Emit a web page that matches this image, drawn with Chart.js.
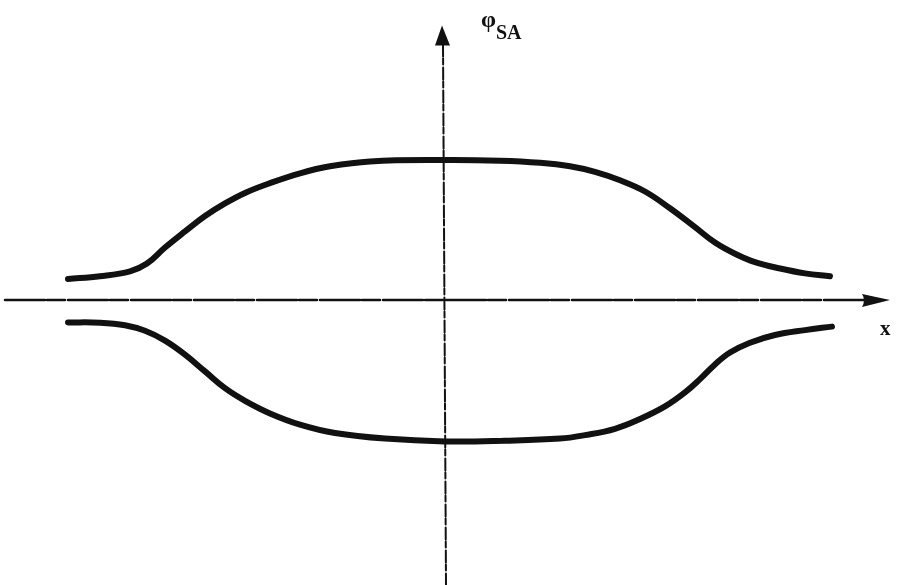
<!DOCTYPE html>
<html>
<head>
<meta charset="utf-8">
<script src="https://cdn.jsdelivr.net/npm/chart.js@4/dist/chart.umd.min.js"></script>
<style>
  html, body { margin: 0; padding: 0; background: #fff; }
  #wrap { width: 910px; height: 585px; }
</style>
</head>
<body>
<div id="wrap"><canvas id="phiChart"></canvas></div>
<script>
// upper branch of phi_SA(x)
const upperX = [-3.77, -3.45, -3.15, -2.98, -2.8, -2.6, -2.4, -2.2, -2.0, -1.75, -1.45, -1.15, -0.75, 0, 0.55, 0.95, 1.25, 1.5, 1.75, 2.0, 2.25, 2.5, 2.7, 2.9, 3.1, 3.35, 3.6, 3.85];
const upperY = [0.15, 0.17, 0.205, 0.26, 0.375, 0.49, 0.6, 0.69, 0.765, 0.835, 0.905, 0.955, 0.99, 1.0, 0.995, 0.98, 0.955, 0.915, 0.855, 0.775, 0.655, 0.52, 0.41, 0.33, 0.27, 0.225, 0.19, 0.17];
// lower branch
const lowerX = [-3.77, -3.45, -3.2, -3.0, -2.8, -2.6, -2.4, -2.2, -2.0, -1.75, -1.45, -1.1, -0.6, 0, 0.6, 1.15, 1.4, 1.7, 1.95, 2.2, 2.4, 2.55, 2.7, 2.85, 3.05, 3.3, 3.6, 3.87];
const lowerY = [-0.16, -0.162, -0.18, -0.22, -0.29, -0.39, -0.51, -0.63, -0.72, -0.81, -0.89, -0.95, -0.99, -1.01, -1.005, -0.99, -0.965, -0.92, -0.85, -0.76, -0.66, -0.565, -0.46, -0.375, -0.305, -0.25, -0.215, -0.19];
// axis extents
const xAxisRange = [-4.4, 4.45];
const yAxisRange = [-2.04, 1.96];
const yLabel = 'φ';
const yLabelSub = 'SA';
const xLabel = 'x';

const ink = '#111';
const toPoints = (xs, ys) => xs.map((x, i) => ({ x: x, y: ys[i] }));

const axesPlugin = {
    id: 'axes',
    beforeDatasetsDraw(chart) {
        const { ctx, scales: { x, y } } = chart;
        const x0 = x.getPixelForValue(0);
        const y0 = y.getPixelForValue(0);
        const xl = x.getPixelForValue(xAxisRange[0]);
        const xr = x.getPixelForValue(xAxisRange[1]);
        const yt = y.getPixelForValue(yAxisRange[1]);
        const yb = y.getPixelForValue(yAxisRange[0]);
        ctx.save();
        ctx.strokeStyle = ink;
        ctx.fillStyle = ink;
        ctx.lineCap = 'round';

        // horizontal axis
        ctx.lineWidth = 2.5;
        ctx.setLineDash([40, 2, 18, 3]);
        ctx.beginPath();
        ctx.moveTo(xl, y0);
        ctx.lineTo(xr - 20, y0);
        ctx.stroke();

        // vertical axis
        ctx.lineWidth = 2;
        ctx.setLineDash([12, 3, 6, 2]);
        ctx.beginPath();
        ctx.moveTo(x0 + 1, yb);
        ctx.lineTo(x0 - 2, yt + 18);
        ctx.stroke();
        ctx.setLineDash([]);

        // arrow heads
        ctx.beginPath();
        ctx.moveTo(x0 - 3, yt);
        ctx.lineTo(x0 + 5, yt + 20);
        ctx.lineTo(x0 - 10, yt + 20);
        ctx.closePath();
        ctx.fill();

        ctx.beginPath();
        ctx.moveTo(xr, y0);
        ctx.lineTo(xr - 28, y0 - 6);
        ctx.quadraticCurveTo(xr - 24, y0, xr - 28, y0 + 7);
        ctx.closePath();
        ctx.fill();

        // labels
        ctx.textBaseline = 'alphabetic';
        ctx.font = 'bold 24px "Liberation Serif", serif';
        ctx.fillText(yLabel, x0 + 36, yt + 1);
        ctx.font = 'bold 20px "Liberation Serif", serif';
        ctx.fillText(yLabelSub, x0 + 51, yt + 13);
        ctx.font = 'bold 21px "Liberation Serif", serif';
        ctx.fillText(xLabel, xr - 10, y0 + 35);
        ctx.restore();
    }
};

new Chart(document.getElementById('phiChart'), {
    type: 'scatter',
    data: {
        datasets: [{
            data: toPoints(upperX, upperY),
            showLine: true,
            tension: 0.4,
        }, {
            data: toPoints(lowerX, lowerY),
            showLine: true,
            tension: 0.4,
        }]
    },
    options: {
        responsive: true,
        maintainAspectRatio: false,
        animation: false,
        layout: { padding: 0 },
        elements: {
            line: {
                borderColor: ink,
                borderWidth: 6,
                borderCapStyle: 'round',
                fill: false,
            },
            point: { radius: 0, hoverRadius: 0 }
        },
        plugins: {
            legend: { display: false },
            tooltip: { enabled: false }
        },
        scales: {
            x: { type: 'linear', display: false, min: -4.45, max: 4.65 },
            y: { type: 'linear', display: false, min: -2.0357, max: 2.142857 }
        }
    },
    plugins: [axesPlugin]
});
</script>
</body>
</html>
